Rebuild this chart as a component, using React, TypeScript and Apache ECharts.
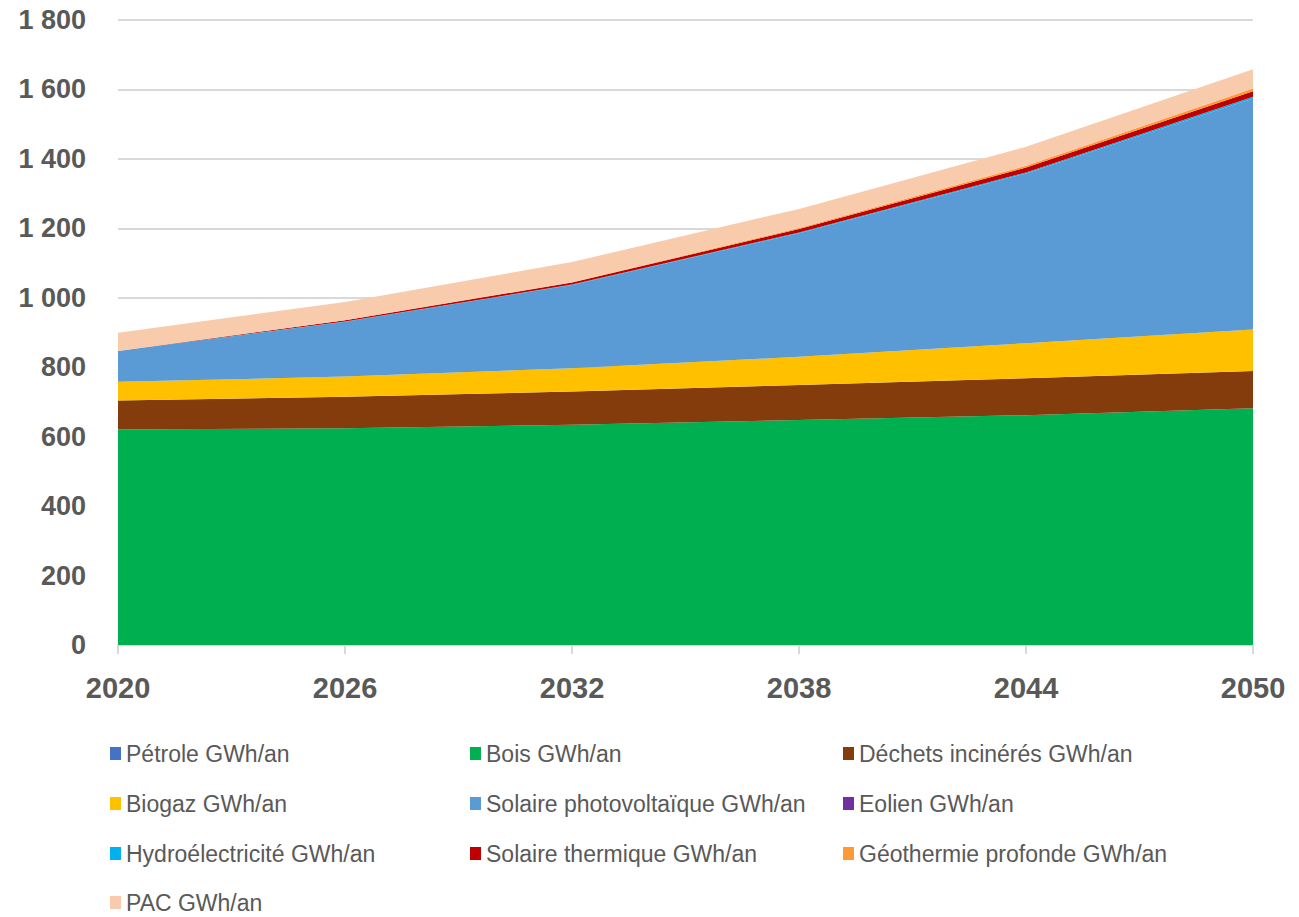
import React, { useEffect, useRef } from "react";
import * as echarts from "echarts";

const years = ["2020", "2026", "2032", "2038", "2044", "2050"];
const petrole = [0, 0, 0, 0, 0, 0];
const bois = [621, 624, 634, 648, 662, 682];
const dechets = [83, 91, 96, 101, 106, 107];
const biogaz = [54, 58, 67, 81, 101, 120];
const solairePV = [89, 158, 240, 356, 489, 665];
const eolien = [0, 0, 0, 0, 0, 0];
const hydro = [0, 1, 1, 2, 3, 5];
const solaireThermique = [0, 3, 6, 10, 14, 16];
const geothermie = [0, 0, 1, 3, 5, 8];
const pac = [52, 53, 58, 55, 55, 55];

const seriesNames = [
  "Pétrole GWh/an",
  "Bois GWh/an",
  "Déchets incinérés GWh/an",
  "Biogaz GWh/an",
  "Solaire photovoltaïque GWh/an",
  "Eolien GWh/an",
  "Hydroélectricité GWh/an",
  "Solaire thermique GWh/an",
  "Géothermie profonde GWh/an",
  "PAC GWh/an",
];
const seriesData = [petrole, bois, dechets, biogaz, solairePV, eolien, hydro, solaireThermique, geothermie, pac];
const seriesColors = [
  "#4472C4",
  "#00B050",
  "#843C0C",
  "#FFC000",
  "#5B9BD5",
  "#7030A0",
  "#00B0F0",
  "#C00000",
  "#FF9933",
  "#F8CBAD",
];

const FONT = "'Liberation Sans', Arial, sans-serif";

export default function App() {
  const ref = useRef<HTMLDivElement>(null);
  useEffect(() => {
    if (!ref.current) return;
    const chart = echarts.init(ref.current, undefined, { renderer: "svg" });
    const legendText = { color: "#595959", fontSize: 23, fontFamily: FONT };
    const colLefts = [110, 470, 843];
    const rowTops = [742, 792, 842, 891];
    const legends = seriesNames.map((name, i) => ({
      orient: "horizontal",
      left: colLefts[i % 3],
      top: rowTops[Math.floor(i / 3)],
      itemWidth: 11,
      itemHeight: 13,
      icon: "rect",
      padding: 0,
      textStyle: legendText,
      data: [name],
    }));
    chart.setOption({
      animation: false,
      backgroundColor: "#ffffff",
      grid: { left: 118, right: 46, top: 20, bottom: 272, containLabel: false },
      legend: legends,
      xAxis: {
        type: "category",
        data: years,
        boundaryGap: false,
        axisLine: { lineStyle: { color: "#D9D9D9", width: 2 } },
        axisTick: { show: true, length: 9, lineStyle: { color: "#D9D9D9", width: 2 } },
        axisLabel: {
          color: "#595959",
          fontSize: 29,
          fontWeight: "bold",
          fontFamily: FONT,
          margin: 28,
        },
        splitLine: { show: false },
      },
      yAxis: {
        type: "value",
        min: 0,
        max: 1800,
        interval: 200,
        axisLine: { show: false },
        axisTick: { show: false },
        axisLabel: {
          color: "#595959",
          fontSize: 27,
          fontWeight: "bold",
          fontFamily: FONT,
          margin: 32,
          formatter: (v: number) => String(v).replace(/\B(?=(\d{3})+(?!\d))/g, " "),
        },
        splitLine: { lineStyle: { color: "#D9D9D9", width: 2 } },
      },
      series: seriesNames.map((name, i) => ({
        name,
        type: "line",
        stack: "total",
        data: seriesData[i],
        symbol: "none",
        lineStyle: { width: 0 },
        itemStyle: { color: seriesColors[i] },
        areaStyle: { color: seriesColors[i], opacity: 1 },
      })),
    });
    return () => chart.dispose();
  }, []);
  return (
    <div
      ref={ref}
      style={{ position: "absolute", left: 0, top: 0, width: 1299, height: 917 }}
    />
  );
}
